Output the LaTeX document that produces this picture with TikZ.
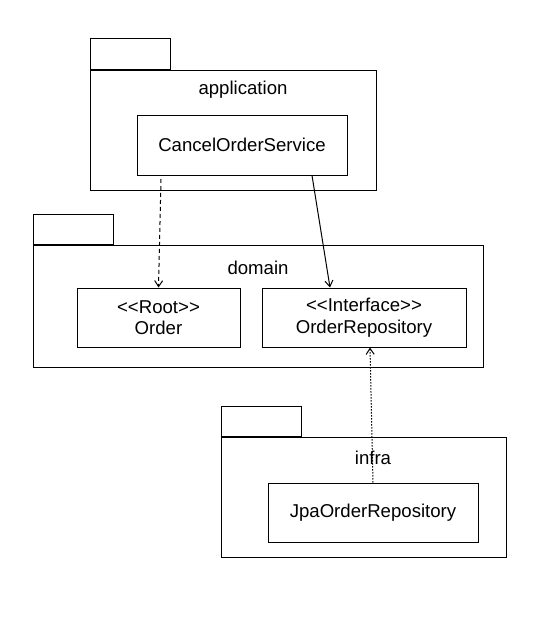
\documentclass[tikz,border=0pt]{standalone}
\usepackage{fontspec}
\setmainfont{Liberation Sans}
\usetikzlibrary{positioning,arrows.meta}

\begin{document}
\begin{tikzpicture}%
[x=1pt, y=-1pt, line width=1pt,%
pkg/.style={draw, inner sep=0pt, shape=rectangle},%
tab/.style={draw, inner sep=0pt, minimum width=80pt, minimum height=30pt, anchor=south west},%
cls/.style={draw, inner sep=0pt, align=center, font=\fontsize{18.6}{21.5}\selectfont},%
lbl/.style={inner sep=0pt, font=\fontsize{18.6}{21.5}\selectfont},%
dep/.style={-{Straight Barb[length=6pt,width=8pt]}}]
\useasboundingbox (0,0) rectangle (540,618);
% application
\node[pkg, minimum width=286pt, minimum height=120pt] (app) at (233,130) {};
\node[tab] (apptab) at (app.north west) {};
\node[lbl] (applbl) at (243,90) {application};
\node[cls, minimum width=210pt, minimum height=60pt] (svc) at (242,145) {CancelOrderService};
% domain
\node[pkg, minimum width=450pt, minimum height=122pt] (dom) at (258,306) {};
\node[tab] (domtab) at (dom.north west) {};
\node[lbl] (domlbl) at (258,268) {domain};
\node[cls, minimum width=163pt, minimum height=59pt] (order) at (158.5,317.5) {<{}<Root>{}>\\Order};
\node[cls, minimum width=204pt, minimum height=59pt] (repo) at (364,317.5) {<{}<Interface>{}>\\OrderRepository};
% infra
\node[pkg, minimum width=285pt, minimum height=120pt] (inf) at (363.5,497) {};
\node[tab] (inftab) at (inf.north west) {};
\node[lbl] (inflbl) at (373,458) {infra};
\node[cls, minimum width=210pt, minimum height=59pt] (jpa) at (373,512.5) {JpaOrderRepository};
% dependencies
\coordinate (svcord) at (161,179);
\draw[dep, dash pattern=on 4pt off 3pt] (svcord) -- (order.north);
\draw[dep] (svc.south -| 312,0) -- (repo.north -| 330,0);
\draw[dep, dash pattern=on 1.5pt off 1.5pt] (jpa.north) -- (repo.south -| 370,0);
\end{tikzpicture}
\end{document}
